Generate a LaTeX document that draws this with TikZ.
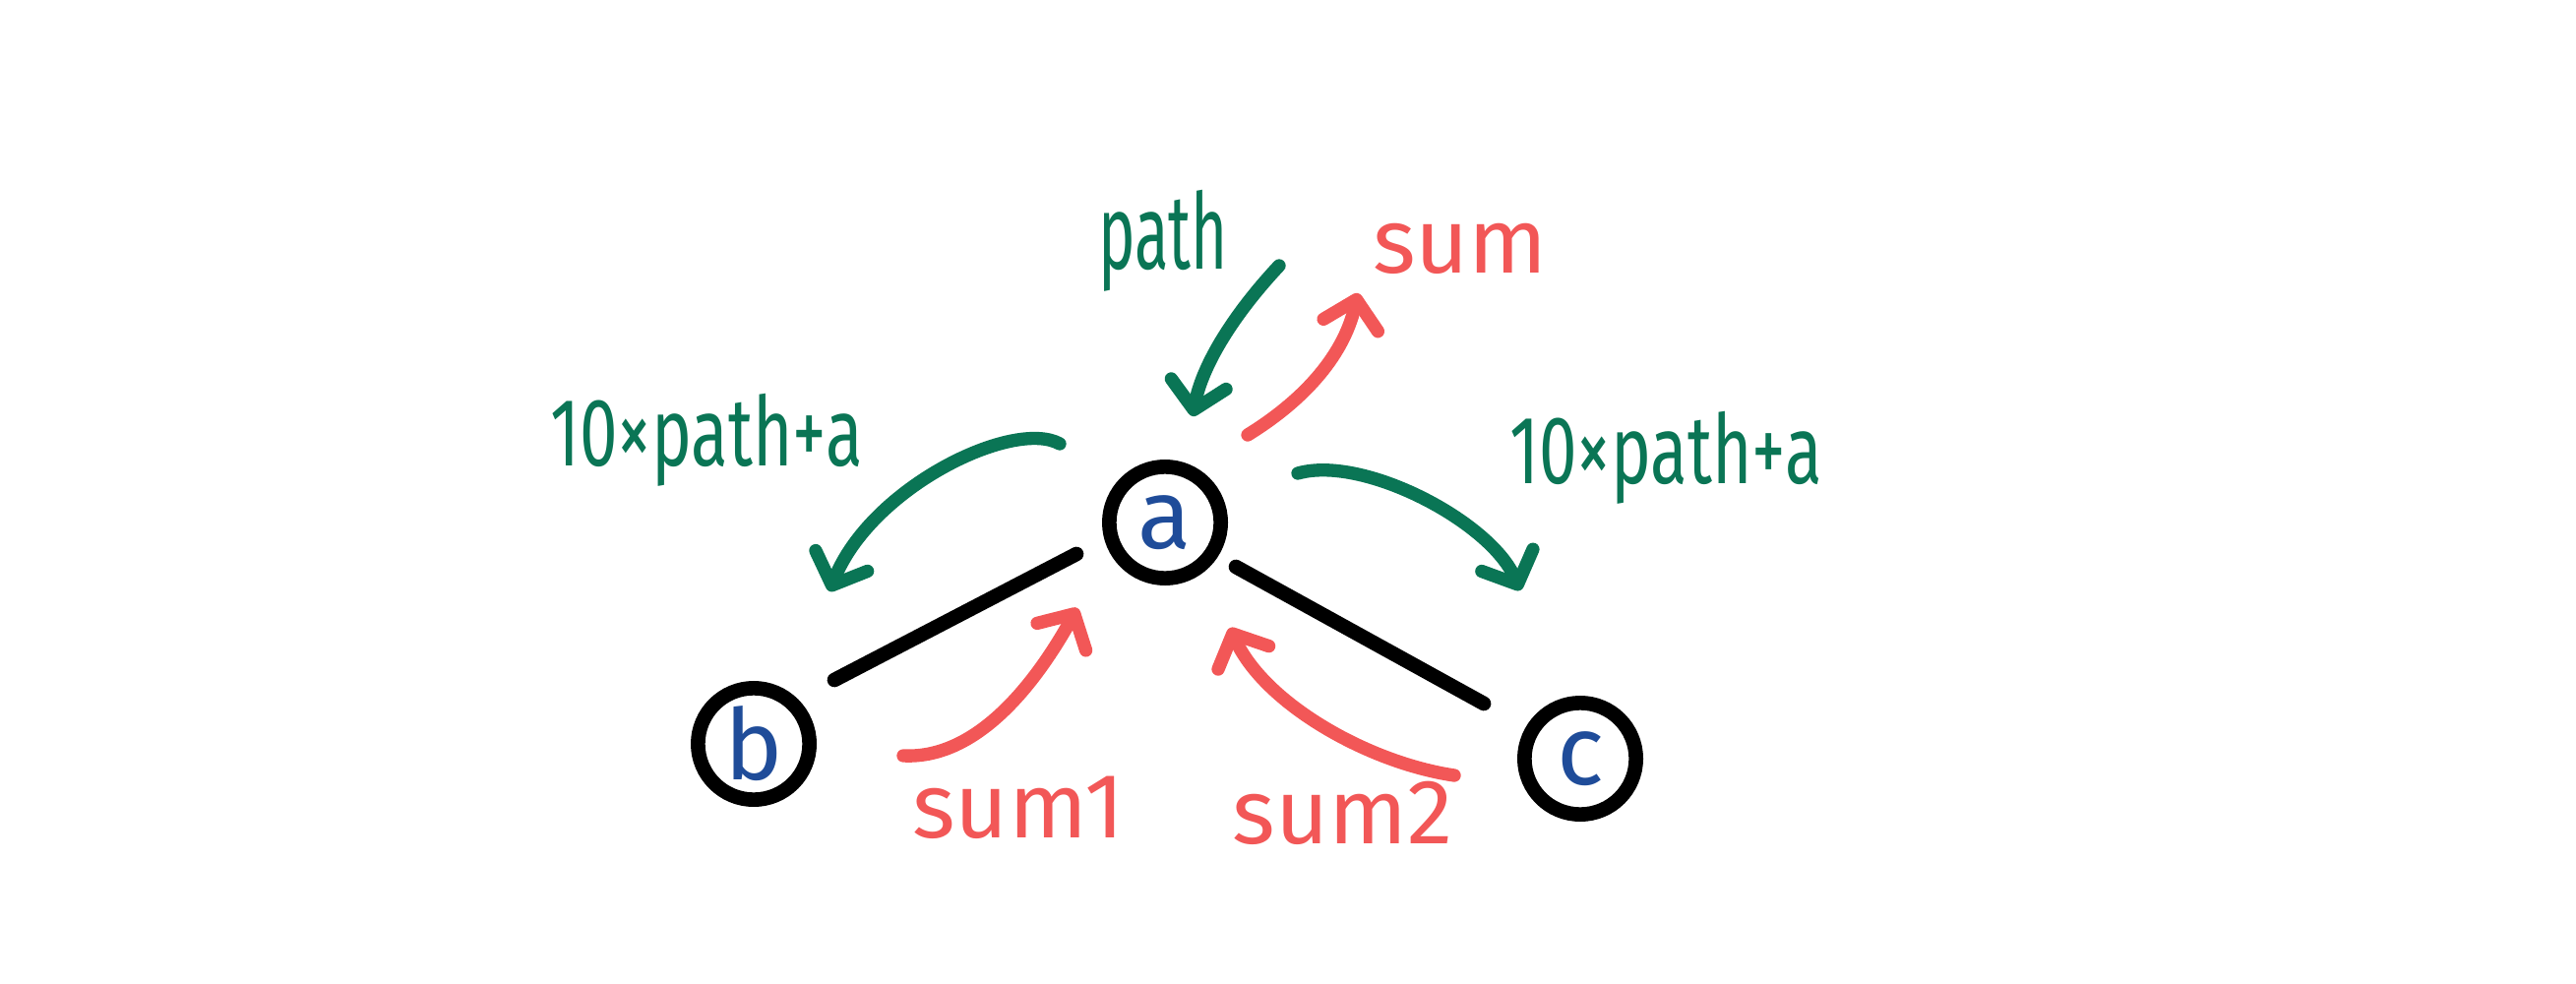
\documentclass[tikz,border=0pt]{standalone}
\usepackage{fontspec}
\setmainfont{Fira Sans}
\usetikzlibrary{arrows.meta}
\definecolor{ink}{HTML}{0A7555}
\definecolor{rd}{HTML}{F25757}
\definecolor{bl}{HTML}{1F4C99}
\begin{document}
\begin{tikzpicture}[x=0.3pt,y=-0.3pt,
  vert/.style={circle,draw=black,line width=4.4pt,minimum size=34pt,inner sep=0pt,text=bl,font=\fontsize{30}{30}\selectfont},
  edge/.style={black,line width=4.4pt,line cap=round},
  garr/.style={ink,line width=4pt,line cap=round,line join=round,-{Straight Barb[length=8pt,width=17pt,line width=4pt,round]}},
  rarr/.style={rd,line width=4pt,line cap=round,line join=round,-{Straight Barb[length=8pt,width=17pt,line width=4pt,round]}},
  glab/.style={text=ink,font=\fontsize{28}{28}\selectfont,inner sep=0pt},
  rlab/.style={text=rd,font=\fontsize{28}{28}\selectfont,inner sep=0pt}]
\useasboundingbox (0,0) rectangle (2618,1000);
\node[vert] (a) at (1184,531) {a};
\node[vert] (b) at (766,756) {b};
\node[vert] (c) at (1606,771) {c};
\coordinate (ab1) at (1094,563); \coordinate (ab2) at (848,691);
\coordinate (ac1) at (1256,576); \coordinate (ac2) at (1508,715);
\draw[edge] (ab1) -- (ab2);
\draw[edge] (ac1) -- (ac2);
% labels
\node[glab] (lpath) at (1182,245) {\scalebox{0.68}[1.15]{path}};
\node[rlab] (lsum) at (1484,253) {sum};
\node[glab] (lleft) at (718,447) {\scalebox{0.74}[1.05]{10×path+a}};
\node[glab] (lright) at (1693,465) {\scalebox{0.74}[1.05]{10×path+a}};
\node[rlab] (lsum1) at (1035,821) {sum1};
\node[rlab] (lsum2) at (1365,826) {sum2};
% arrow end points
\coordinate (g1s) at (1300,270); \coordinate (g1t) at (1212,423);
\coordinate (r1s) at (1268,442); \coordinate (r1t) at (1380,298);
\coordinate (g2s) at (1077,451); \coordinate (g2t) at (843,601);
\coordinate (g3s) at (1319,481); \coordinate (g3t) at (1545,600);
\coordinate (r2s) at (918,768);  \coordinate (r2t) at (1095,618);
\coordinate (r3s) at (1478,788); \coordinate (r3t) at (1250,638);
\draw[garr] (g1s) .. controls (1255,318) and (1222,370) .. (g1t);
\draw[rarr] (r1s) .. controls (1320,410) and (1365,365) .. (r1t);
\draw[garr] (g2s) .. controls (1030,425) and (885,495) .. (g2t);
\draw[garr] (g3s) .. controls (1385,462) and (1515,530) .. (g3t);
\draw[rarr] (r2s) .. controls (995,772) and (1055,690) .. (r2t);
\draw[rarr] (r3s) .. controls (1390,775) and (1285,715) .. (r3t);
\end{tikzpicture}
\end{document}
